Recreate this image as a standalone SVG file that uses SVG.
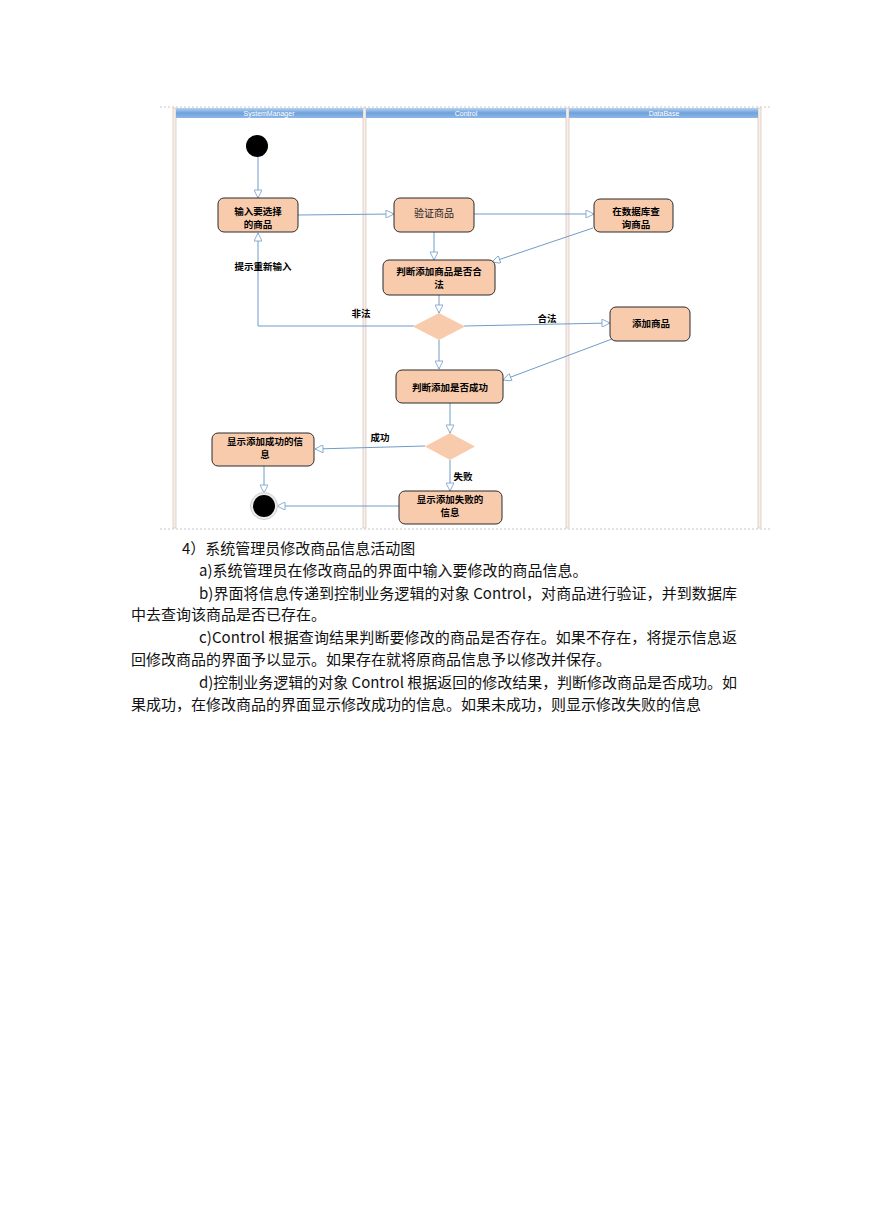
<svg xmlns="http://www.w3.org/2000/svg" width="869" height="1228" viewBox="0 0 869 1228">
<defs>
<linearGradient id="hdr" x1="0" y1="0" x2="0" y2="1">
<stop offset="0" stop-color="#b7d2f0"/>
<stop offset="0.5" stop-color="#6ea2dc"/>
<stop offset="1" stop-color="#8fb7e6"/>
</linearGradient>
<marker id="tri" viewBox="0 0 10 10" refX="10" refY="5" markerWidth="10" markerHeight="8" markerUnits="userSpaceOnUse" orient="auto">
<path d="M0,0 L10,5 L0,10 Z" fill="#ffffff" stroke="#6f9cc8" stroke-width="1"/>
</marker>
</defs>
<style>
.node{fill:#f8cbad;stroke:#2b2b2b;stroke-width:1}
.dia{fill:#f8cbad}
.lbl{font-family:"Noto Sans CJK SC","Noto Sans",sans-serif;font-size:9.5px;font-weight:bold;fill:#000;text-anchor:middle}
.lblr{font-family:"Noto Sans CJK SC","Noto Sans",sans-serif;font-size:10px;fill:#222;text-anchor:middle}
.conn{fill:none;stroke:#6f9cc8;stroke-width:1}
.arr{marker-end:url(#tri)}
.lane{fill:#f5eee9;stroke:#dcc9be;stroke-width:0.8}
.hdt{font-family:"Liberation Sans",sans-serif;font-size:7px;fill:#ffffff;text-anchor:middle}
.body{font-family:"Noto Sans CJK SC","Liberation Sans",sans-serif;font-size:15px;fill:#111}
</style>
<rect width="869" height="1228" fill="#ffffff"/>
<g id="frame">
<line x1="160" y1="107" x2="770" y2="107" stroke="#c8c8c8" stroke-width="1" stroke-dasharray="2,2"/>
<line x1="160" y1="529" x2="770" y2="529" stroke="#c8c8c8" stroke-width="1" stroke-dasharray="2,2"/>
<rect class="lane" x="173" y="108" width="3" height="420"/>
<rect class="lane" x="363" y="108" width="3" height="420"/>
<rect class="lane" x="566" y="108" width="3" height="420"/>
<rect class="lane" x="758" y="108" width="3" height="420"/>
<rect x="176" y="108" width="187" height="10" fill="url(#hdr)"/>
<rect x="366" y="108" width="200" height="10" fill="url(#hdr)"/>
<rect x="569" y="108" width="189" height="10" fill="url(#hdr)"/>
<text class="hdt" x="269" y="115.5">SystemManager</text>
<text class="hdt" x="466" y="115.5">Control</text>
<text class="hdt" x="664" y="115.5">DataBase</text>
</g>
<g id="connectors">
<line class="conn arr" x1="258" y1="157" x2="258" y2="198"/>
<line class="conn arr" x1="298" y1="215" x2="394" y2="214"/>
<line class="conn arr" x1="474" y1="214" x2="594" y2="214"/>
<line class="conn arr" x1="434" y1="232" x2="434" y2="260"/>
<line class="conn arr" x1="593" y1="228" x2="492" y2="262"/>
<line class="conn arr" x1="439" y1="295" x2="439" y2="313"/>
<polyline class="conn arr" points="414,326 258,326 258,233"/>
<line class="conn arr" x1="464" y1="326" x2="610" y2="323"/>
<line class="conn arr" x1="439" y1="340" x2="439" y2="369"/>
<line class="conn arr" x1="612" y1="339" x2="503" y2="380"/>
<line class="conn arr" x1="450" y1="403" x2="450" y2="433"/>
<line class="conn arr" x1="425" y1="446" x2="315" y2="449"/>
<line class="conn arr" x1="450" y1="460" x2="450" y2="491"/>
<line class="conn arr" x1="264" y1="466" x2="264" y2="493"/>
<line class="conn arr" x1="399" y1="506" x2="277" y2="506"/>
<text class="lbl" x="263" y="270">提示重新输入</text>
<text class="lbl" x="361" y="317">非法</text>
<text class="lbl" x="547" y="322">合法</text>
<text class="lbl" x="380" y="441">成功</text>
<text class="lbl" x="463" y="480">失败</text>
</g>
<g id="start">
<circle cx="257" cy="146" r="11" fill="#000"/>
</g>
<g id="n_input">
<rect class="node" x="218" y="198" width="80" height="34" rx="6"/>
<text class="lbl" x="258" y="214.5">输入要选择</text>
<text class="lbl" x="258" y="227.5">的商品</text>
</g>
<g id="n_verify">
<rect class="node" x="394" y="198" width="80" height="34" rx="6"/>
<text class="lblr" x="434" y="217">验证商品</text>
</g>
<g id="n_query">
<rect class="node" x="594" y="199" width="79" height="33" rx="6"/>
<text class="lbl" x="636" y="214.5">在数据库查</text>
<text class="lbl" x="636" y="227.5">询商品</text>
</g>
<g id="n_judge">
<rect class="node" x="383" y="260" width="112" height="35" rx="6"/>
<text class="lbl" x="439" y="274.5">判断添加商品是否合</text>
<text class="lbl" x="439" y="287.5">法</text>
</g>
<g id="d1">
<polygon class="dia" points="439,313 465,326.5 439,340 413,326.5"/>
</g>
<g id="n_add">
<rect class="node" x="610" y="307" width="80" height="34" rx="6"/>
<text class="lbl" x="651" y="327">添加商品</text>
</g>
<g id="n_check">
<rect class="node" x="396" y="370" width="107" height="33" rx="6"/>
<text class="lbl" x="450" y="390.5">判断添加是否成功</text>
</g>
<g id="d2">
<polygon class="dia" points="450,433 475,446.5 450,460 425,446.5"/>
</g>
<g id="n_ok">
<rect class="node" x="212" y="433" width="102" height="33" rx="6"/>
<text class="lbl" x="265" y="445">显示添加成功的信</text>
<text class="lbl" x="265" y="458">息</text>
</g>
<g id="n_fail">
<rect class="node" x="399" y="491" width="103" height="33" rx="6"/>
<text class="lbl" x="450" y="503">显示添加失败的</text>
<text class="lbl" x="450" y="516">信息</text>
</g>
<g id="end">
<circle cx="264" cy="506" r="13.5" fill="#ececec" stroke="#d0d0d0" stroke-width="1"/>
<circle cx="264" cy="506" r="11" fill="#000"/>
</g>
<g id="text">
<text class="body" x="182" y="554">4）系统管理员修改商品信息活动图</text>
<text class="body" x="199" y="576">a)系统管理员在修改商品的界面中输入要修改的商品信息。</text>
<text class="body" x="199" y="599" textLength="538" lengthAdjust="spacing">b)界面将信息传递到控制业务逻辑的对象 Control，对商品进行验证，并到数据库</text>
<text class="body" x="131" y="620">中去查询该商品是否已存在。</text>
<text class="body" x="199" y="643" textLength="538" lengthAdjust="spacing">c)Control 根据查询结果判断要修改的商品是否存在。如果不存在，将提示信息返</text>
<text class="body" x="131" y="665">回修改商品的界面予以显示。如果存在就将原商品信息予以修改并保存。</text>
<text class="body" x="199" y="688" textLength="538" lengthAdjust="spacing">d)控制业务逻辑的对象 Control 根据返回的修改结果，判断修改商品是否成功。如</text>
<text class="body" x="131" y="710">果成功，在修改商品的界面显示修改成功的信息。如果未成功，则显示修改失败的信息</text>
</g>
</svg>
